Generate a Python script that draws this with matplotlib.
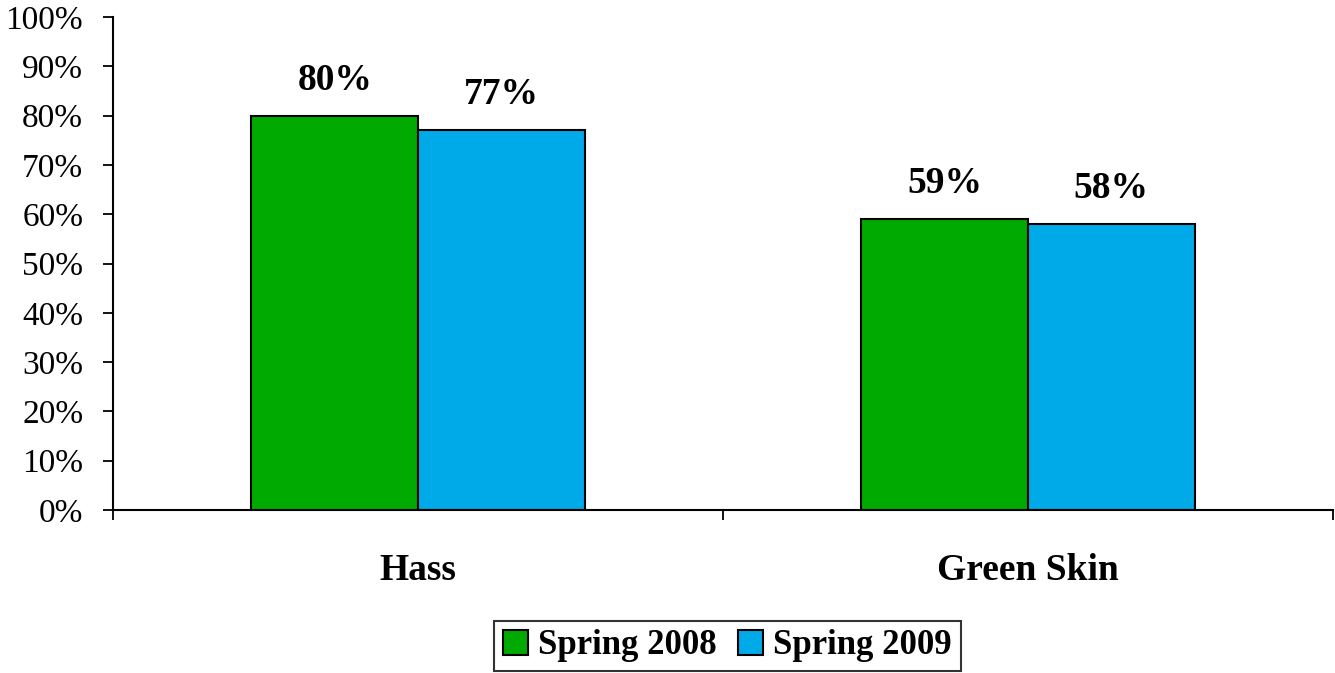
import matplotlib
matplotlib.use("Agg")
import matplotlib.pyplot as plt
from matplotlib.ticker import FixedLocator
import numpy as np

categories = ["Hass", "Green Skin"]
series_names = ["Spring 2008", "Spring 2009"]
spring_2008 = [80, 59]
spring_2009 = [77, 58]
yticks = [0, 10, 20, 30, 40, 50, 60, 70, 80, 90, 100]
colors = ["#00AA00", "#00AAE8"]

plt.rcParams['font.family'] = ['Liberation Serif', 'DejaVu Serif']

fig = plt.figure(figsize=(13.35, 6.73), dpi=100)
ax = fig.add_axes([113/1335, 1 - 510/673, 1220/1335, 493/673])

centers = np.arange(len(categories)) + 0.5
w = 0.273
for i, (vals, name) in enumerate(zip([spring_2008, spring_2009], series_names)):
    pos = centers + (i - 0.5) * w
    ax.bar(pos, vals, width=w, color=colors[i], edgecolor="black",
           linewidth=1.5, label=name)
    for x, v in zip(pos, vals):
        ax.annotate(f"{v}%", (x, v), xytext=(0, 13), textcoords="offset points",
                    ha="center", va="bottom", fontsize=27, fontweight="bold")

ax.set_xlim(0, len(categories))
ax.set_ylim(0, 100)
ax.set_yticks(yticks)
ax.set_yticklabels([f"{t}%" for t in yticks], fontsize=24)
ax.xaxis.set_major_locator(FixedLocator(np.arange(len(categories) + 1)))
ax.set_xticklabels([])
ax.xaxis.set_minor_locator(FixedLocator(centers))
ax.set_xticklabels(categories, minor=True, fontsize=27, fontweight="bold")
ax.tick_params(axis="x", which="minor", length=0, pad=31)
ax.tick_params(axis="x", which="major", length=7.5, width=1.3, direction="out")
ax.tick_params(axis="y", length=7.5, width=1.3, direction="out", pad=14)

for s in ["top", "right"]:
    ax.spines[s].set_visible(False)
for s in ["left", "bottom"]:
    ax.spines[s].set_linewidth(1.5)

leg = fig.legend(loc="center", bbox_to_anchor=(727.5/1335, 1 - 646/673),
                 ncol=2, frameon=True, fancybox=False, edgecolor="black",
                 prop={"size": 25, "weight": "bold"}, handlelength=0.72,
                 handleheight=0.72, handletextpad=0.3, columnspacing=0.6,
                 borderpad=0.25, borderaxespad=0)
leg.get_frame().set_linewidth(1.5)

fig.savefig("out.png", dpi=100)
